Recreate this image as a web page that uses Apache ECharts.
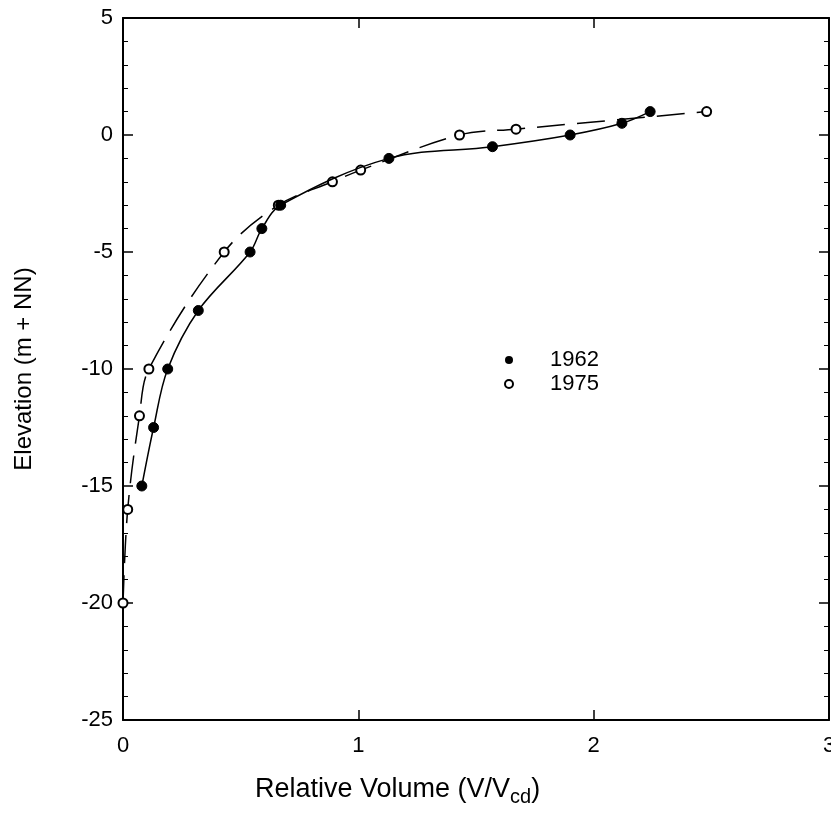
<!DOCTYPE html>
<html>
<head>
<meta charset="utf-8">
<script src="https://cdn.jsdelivr.net/npm/echarts@6/dist/echarts.min.js"></script>
<style>
  html, body { margin: 0; padding: 0; background: #fff; }
  #chart { width: 831px; height: 839px; }
</style>
</head>
<body>
<div id="chart"></div>
<script>
// 1962 survey (filled dots)
const vol1962 = [0.08, 0.13, 0.19, 0.32, 0.54, 0.59, 0.67, 1.13, 1.57, 1.90, 2.12, 2.24];
const elev1962 = [-15, -12.5, -10, -7.5, -5, -4, -3, -1, -0.5, 0, 0.5, 1];
// 1975 survey (open dots)
const vol1975 = [0.0, 0.02, 0.07, 0.11, 0.43, 0.66, 0.89, 1.01, 1.43, 1.67, 2.48];
const elev1975 = [-20, -16, -12, -10, -5, -3, -2, -1.5, 0, 0.25, 1];

const xTicks = [0, 1, 2, 3];
const yTicks = [-25, -20, -15, -10, -5, 0, 5];

const pairs = (xs, ys) => xs.map((x, i) => [x, ys[i]]);

const font = 'Liberation Sans, Arial, sans-serif';
const chart = echarts.init(document.getElementById('chart'));

const tickCommon = {
  axisLine: { show: true, onZero: false, lineStyle: { color: '#000', width: 2 } },
  splitLine: { show: false }
};

chart.setOption({
  animation: false,
  backgroundColor: '#fff',
  grid: { left: 123, right: 2, top: 18, bottom: 119, outerBoundsMode: 'none' },
  legend: {
    left: 499, top: 344, orient: 'vertical', itemGap: 2,
    itemWidth: 8, itemHeight: 8,
    textStyle: { fontFamily: font, fontSize: 22, color: '#000', padding: [0, 0, 0, 32] },
    data: [
      { name: '1962', icon: 'circle', itemStyle: { color: '#000', borderWidth: 0 } },
      { name: '1975', icon: 'circle', itemStyle: { color: '#fff', borderColor: '#000', borderWidth: 2 } }
    ]
  },
  xAxis: [{
    type: 'value', min: xTicks[0], max: xTicks[xTicks.length - 1], interval: 1,
    ...tickCommon,
    axisTick: { show: true, inside: true, length: 10, lineStyle: { color: '#000', width: 1.5 } },
    axisLabel: { fontFamily: font, fontSize: 22, color: '#000', margin: 15 }
  }, {
    type: 'value', position: 'top', min: 0, max: 3, interval: 1,
    ...tickCommon,
    axisTick: { show: true, inside: true, length: 10, lineStyle: { color: '#000', width: 1.5 } },
    axisLabel: { show: false }
  }],
  yAxis: [{
    type: 'value', min: yTicks[0], max: yTicks[yTicks.length - 1], interval: 5,
    ...tickCommon,
    axisTick: { show: true, inside: true, length: 10, lineStyle: { color: '#000', width: 1.5 } },
    minorTick: { show: true, splitNumber: 5, length: 5, lineStyle: { color: '#000', width: 1 } },
    axisLabel: { fontFamily: font, fontSize: 22, color: '#000', margin: 10 },
    name: 'Elevation (m + NN)', nameLocation: 'middle', nameGap: 87,
    nameTextStyle: { fontFamily: font, fontSize: 24, color: '#000' }
  }, {
    type: 'value', position: 'right', min: -25, max: 5, interval: 5,
    ...tickCommon,
    axisTick: { show: true, inside: true, length: 10, lineStyle: { color: '#000', width: 1.5 } },
    minorTick: { show: true, splitNumber: 5, length: 5, lineStyle: { color: '#000', width: 1 } },
    axisLabel: { show: false }
  }],
  graphic: [{
    type: 'text', left: 255, top: 776,
    style: {
      text: 'Relative Volume (V/V{sub|cd})',
      font: '27px ' + font, fill: '#000',
      rich: { sub: { fontSize: 20, fontFamily: font, verticalAlign: 'bottom', padding: [15, 0, 0, 0] } }
    }
  }],
  series: [{
    name: '1975', type: 'line', z: 2,
    data: pairs(vol1975, elev1975),
    smooth: 0.35,
    symbol: 'circle', symbolSize: 9,
    itemStyle: { color: '#fff', borderColor: '#000', borderWidth: 2 },
    lineStyle: { color: '#000', width: 1.5, type: [28, 12] }
  }, {
    name: '1962', type: 'line', z: 3,
    data: pairs(vol1962, elev1962),
    smooth: 0.35,
    symbol: 'circle', symbolSize: 10,
    itemStyle: { color: '#000', borderColor: '#000' },
    lineStyle: { color: '#000', width: 1.5 }
  }]
});
</script>
</body>
</html>
